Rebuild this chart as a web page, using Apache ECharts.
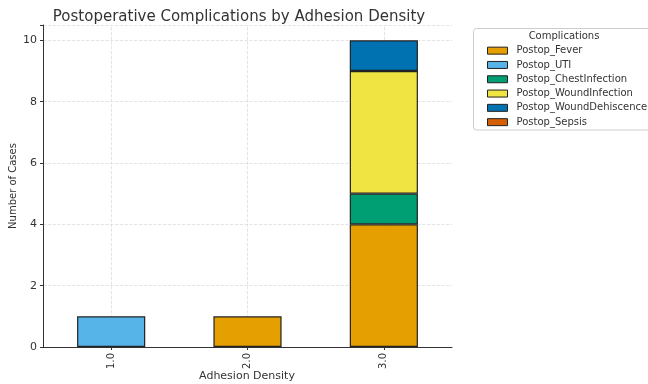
<!DOCTYPE html>
<html><head><meta charset="utf-8">
<script src="https://cdn.jsdelivr.net/npm/echarts@6/dist/echarts.min.js"></script>
<style>html,body{margin:0;padding:0;background:#fff}#c{width:648px;height:384px}</style>
</head><body><div id="c"></div>
<script>
const categories = ['1.0', '2.0', '3.0'];
const seriesNames = ['Postop_Fever', 'Postop_UTI', 'Postop_ChestInfection', 'Postop_WoundInfection', 'Postop_WoundDehiscence', 'Postop_Sepsis'];
const fever = [0, 1, 4];
const uti = [1, 0, 0];
const chest = [0, 0, 1];
const woundInf = [0, 0, 4];
const dehiscence = [0, 0, 1];
const sepsis = [0, 0, 0];
const colors = ['#E69F00', '#56B4E9', '#009E73', '#F0E442', '#0072B2', '#D55E00'];
const allValues = [fever, uti, chest, woundInf, dehiscence, sepsis];
const xName = 'Adhesion Density';
const yName = 'Number of Cases';

const font = 'DejaVu Sans';
const gridLine = {color: '#dcdcdc', type: 'dashed', width: 0.8};
const chart = echarts.init(document.getElementById('c'), null, {renderer: 'canvas'});
chart.setOption({
  animation: false,
  textStyle: {fontFamily: font},
  title: {text: 'Postoperative Complications by Adhesion Density', left: 234, top: 5, textAlign: 'center',
    textStyle: {fontFamily: font, fontSize: 15, fontWeight: 'normal', color: '#333'}},
  grid: {left: 43, right: 196, top: 25, bottom: 37, outerBoundsMode: 'none', containLabel: false},
  legend: {
    orient: 'vertical', left: 482, top: 38.5, itemWidth: 20, itemHeight: 7, itemGap: 0,
    data: seriesNames,
    textStyle: {fontFamily: font, fontSize: 10, color: '#333', lineHeight: 14.3, padding: [0,0,0,4]},
    icon: 'rect',
    itemStyle: {borderColor: '#222', borderWidth: 1}
  },
  graphic: [
    {type: 'rect', shape: {x: 473.5, y: 28.5, width: 180, height: 101.5, r: 3}, style: {fill: '#fff', stroke: '#ccc', lineWidth: 1}, z: -1},
    {type: 'text', style: {x: 564, y: 31.5, text: 'Complications', fill: '#333', font: '10px DejaVu Sans', textAlign: 'center'}},
    {type: 'text', x: 247, y: 376, style: {text: xName, fill: '#333', font: '11px DejaVu Sans', textAlign: 'center', textVerticalAlign: 'middle'}},
    {type: 'text', x: 13, y: 186, rotation: Math.PI / 2, style: {text: yName, fill: '#333', font: '10px DejaVu Sans', textAlign: 'center', textVerticalAlign: 'middle'}}
  ],
  xAxis: {
    type: 'category', data: categories,
    axisLine: {lineStyle: {color: '#333', width: 1}},
    axisTick: {show: true, alignWithLabel: true, length: 3, lineStyle: {color: '#333'}},
    axisLabel: {rotate: 90, fontFamily: font, fontSize: 10, color: '#333', margin: 6},
    splitLine: {show: false}
  },
  yAxis: {
    type: 'value', min: 0, max: 10.5, interval: 2,
    axisLine: {show: true, lineStyle: {color: '#333', width: 1}},
    axisTick: {show: true, length: 3, lineStyle: {color: '#333'}},
    axisLabel: {fontFamily: font, fontSize: 11, color: '#333', margin: 6,
      formatter: v => (v % 2 === 0 ? String(v) : '')},
    splitLine: {show: true, lineStyle: gridLine}
  },
  series: seriesNames.map((n, i) => {
    const s = {
      name: n, type: 'bar', stack: 'total', barWidth: '50%',
      data: allValues[i].map(v => v === 0 ? null : v),
      itemStyle: {color: colors[i], borderColor: '#222', borderWidth: 1.2}
    };
    if (i === 0) {
      s.markLine = {silent: true, symbol: 'none', label: {show: false}, z: 0,
        lineStyle: gridLine, data: categories.map(c => ({xAxis: c}))};
    }
    return s;
  })
});
</script></body></html>
